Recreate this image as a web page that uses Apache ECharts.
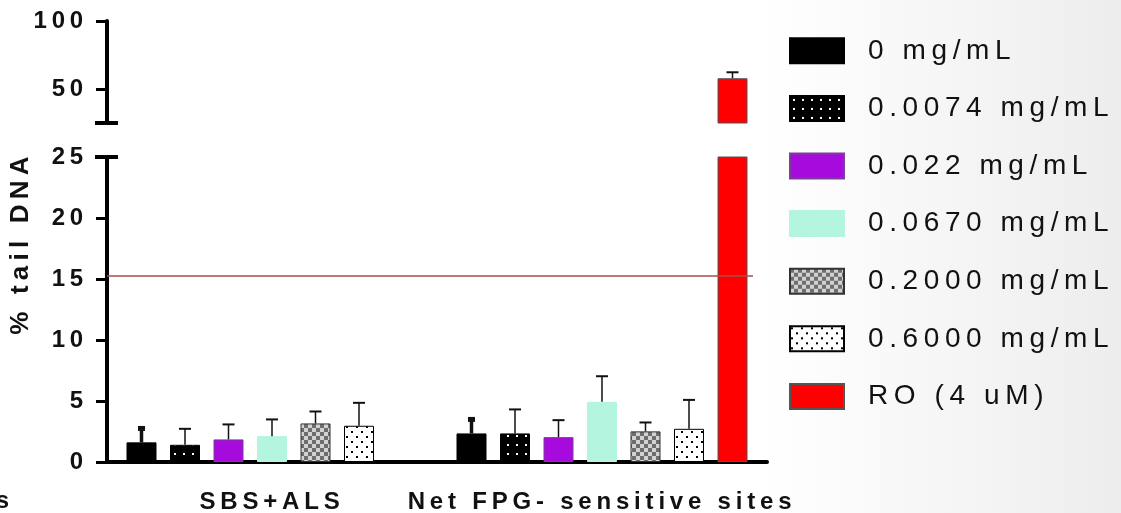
<!DOCTYPE html>
<html>
<head>
<meta charset="utf-8">
<script src="https://cdn.jsdelivr.net/npm/echarts@6/dist/echarts.min.js"></script>
<style>
html, body { margin: 0; padding: 0; background: #fff; }
#main { width: 1121px; height: 513px; }
</style>
</head>
<body>
<div id="main"></div>
<script>
// values (mean and top of the error bar, % tail DNA)
const categories = ['SBS+ALS', 'Net FPG- sensitive sites'];
const groups = ['0 mg/mL', '0.0074 mg/mL', '0.022 mg/mL', '0.0670 mg/mL', '0.2000 mg/mL', '0.6000 mg/mL', 'RO (4 uM)'];
const sbsMean = [1.61, 1.41, 1.85, 2.12, 3.16, 2.97, null];
const sbsTop = [2.75, 2.72, 3.08, 3.49, 4.14, 4.85, null];
const fpgMean = [2.34, 2.34, 2.04, 4.93, 2.51, 2.72, 57.9];
const fpgTop = [3.49, 4.31, 3.43, 7.03, 3.24, 5.09, 62.3];
const upperTicks = [50, 100];
const refLine = 15.3;

const FONT = 'Liberation Sans, Arial, sans-serif';
const BAR_W = 30;
const STEP = BAR_W * 1.45; // bar width + barGap 45%
const BREAK = 25;

// the figure's text is set with wide tracking; echarts has no option for it, canvas does
const ctxProto = CanvasRenderingContext2D.prototype;
const rawFill = ctxProto.fillText;
const rawMeasure = ctxProto.measureText;
function track(ctx) {
  const m = /([\d.]+)px/.exec(ctx.font);
  ctx.letterSpacing = m ? (parseFloat(m[1]) * 0.2).toFixed(1) + 'px' : '0px';
}
ctxProto.fillText = function () { track(this); return rawFill.apply(this, arguments); };
ctxProto.measureText = function () { track(this); return rawMeasure.apply(this, arguments); };

function tile(size, bg, draw) {
  const c = document.createElement('canvas');
  c.width = size;
  c.height = size;
  const g = c.getContext('2d');
  g.fillStyle = bg;
  g.fillRect(0, 0, size, size);
  draw(g);
  return { image: c, repeat: 'repeat' };
}
const blackDots = tile(9, '#000', g => { g.fillStyle = '#fff'; g.fillRect(3, 3, 2, 2); });
const checker = tile(8, '#d2d2d2', g => { g.fillStyle = '#6e6e6e'; g.fillRect(0, 0, 4, 4); g.fillRect(4, 4, 4, 4); });
const whiteDots = tile(10, '#fff', g => { g.fillStyle = '#000'; g.fillRect(1, 1, 2, 2); g.fillRect(6, 6, 2, 2); });

const fills = ['#000000', blackDots, '#a60adc', '#b3f5de', checker, whiteDots, '#ff0000'];
const borders = ['#000', '#000', '#7e3d9e', '#b3f5de', '#333', '#000', '#555'];

let myChart = echarts.init(document.getElementById('main'));

function barSeries(gi, gridIdx) {
  const vals = [sbsMean[gi], fpgMean[gi]].map(v => {
    if (v == null) return null;
    if (gridIdx === 1) return v > BREAK ? v : null;
    return v;
  });
  const s = {
    type: 'bar',
    name: groups[gi],
    xAxisIndex: gridIdx,
    yAxisIndex: gridIdx,
    data: vals,
    barWidth: BAR_W,
    barGap: '45%',
    clip: true,
    itemStyle: { color: fills[gi], borderColor: borders[gi], borderWidth: 1 }
  };
  if (gi === 6 && gridIdx === 0) {
    s.markLine = {
      silent: true,
      symbol: 'none',
      label: { show: false },
      lineStyle: { color: '#a84c4c', width: 1.5, type: 'solid' },
      data: [[{ coord: [0, refLine], x: 107 }, { coord: [1, refLine], x: 753 }]]
    };
  }
  return s;
}

function errorSeries(gi, gridIdx) {
  const data = [];
  [sbsMean, fpgMean].forEach((m, ci) => {
    if (m[gi] == null) return;
    const top = ci === 0 ? sbsTop[gi] : fpgTop[gi];
    if ((m[gi] > BREAK) !== (gridIdx === 1)) return;
    data.push([ci, m[gi], top]);
  });
  return {
    type: 'custom',
    name: 'err' + gi,
    xAxisIndex: gridIdx,
    yAxisIndex: gridIdx,
    silent: true,
    z: 3,
    data: data,
    renderItem: function (params, api) {
      const p0 = api.coord([api.value(0), api.value(1)]);
      const p1 = api.coord([api.value(0), api.value(2)]);
      const x = p0[0] + (gi - 3) * STEP;
      const thick = gi === 0;
      const half = thick ? 3.5 : 6;
      return {
        type: 'group',
        children: [
          { type: 'line', shape: { x1: x, y1: p0[1], x2: x, y2: p1[1] }, style: { stroke: '#111', lineWidth: thick ? 3.5 : 1.5 } },
          { type: 'line', shape: { x1: x - half, y1: p1[1], x2: x + half, y2: p1[1] }, style: { stroke: '#111', lineWidth: thick ? 5 : 2 } }
        ]
      };
    }
  };
}

let series = [];
for (let g = 0; g < 2; g++) {
  for (let i = 0; i < groups.length; i++) series.push(barSeries(i, g));
}
for (let g = 0; g < 2; g++) {
  for (let i = 0; i < groups.length; i++) series.push(errorSeries(i, g));
}

const axisBlack = { lineStyle: { color: '#000', width: 4 } };
const tickLabel = { color: '#111', fontSize: 24, fontWeight: 'bold', fontFamily: FONT };

let option = {
  animation: false,
  backgroundColor: new echarts.graphic.LinearGradient(0, 0, 1, 0, [
    { offset: 0, color: '#ffffff' },
    { offset: 0.68, color: '#ffffff' },
    { offset: 1, color: '#ededed' }
  ]),
  legend: {
    data: groups,
    orient: 'vertical',
    left: 784,
    top: 29,
    icon: 'rect',
    itemWidth: 54,
    itemHeight: 25,
    itemGap: 24,
    selectedMode: false,
    textStyle: { fontSize: 28, color: '#111', fontFamily: FONT, padding: [0, 0, 0, 19] }
  },
  grid: [
    { left: 107, width: 660, top: 157, height: 305, outerBoundsMode: 'none' },
    { left: 107, width: 660, top: 21, height: 102, outerBoundsMode: 'none' }
  ],
  xAxis: [
    {
      type: 'category',
      gridIndex: 0,
      data: categories,
      axisLine: axisBlack,
      axisTick: { alignWithLabel: true, length: 10, lineStyle: { color: '#000', width: 4 } },
      axisLabel: Object.assign({ margin: 26, interval: 0 }, tickLabel)
    },
    { type: 'category', gridIndex: 1, data: categories, show: false }
  ],
  yAxis: [
    {
      type: 'value',
      gridIndex: 0,
      min: 0,
      max: 25,
      interval: 5,
      axisLine: Object.assign({ show: true }, axisBlack),
      axisTick: { show: true, length: 11, lineStyle: { color: '#000', width: 3 } },
      axisLabel: Object.assign({ margin: 19 }, tickLabel),
      splitLine: { show: false }
    },
    {
      type: 'value',
      gridIndex: 1,
      min: BREAK,
      max: 100,
      axisLine: Object.assign({ show: true }, axisBlack),
      axisTick: { show: true, length: 11, customValues: upperTicks, lineStyle: { color: '#000', width: 3 } },
      axisLabel: Object.assign({ margin: 19, customValues: upperTicks }, tickLabel),
      splitLine: { show: false }
    }
  ],
  graphic: [
    {
      type: 'text', x: 21, y: 243, rotation: Math.PI / 2,
      style: { text: '% tail DNA', font: 'bold 26px ' + FONT, fill: '#111', align: 'center', verticalAlign: 'middle' }
    },
    {
      type: 'text', x: 14, y: 501,
      style: { text: 's', font: 'bold 24px ' + FONT, fill: '#111', align: 'right', verticalAlign: 'middle' }
    },
    // axis break caps
    { type: 'line', shape: { x1: 95, y1: 123, x2: 118, y2: 123 }, style: { stroke: '#000', lineWidth: 4 } },
    { type: 'line', shape: { x1: 95, y1: 157, x2: 118, y2: 157 }, style: { stroke: '#000', lineWidth: 4 } }
  ],
  series: series
};
option && myChart.setOption(option);
</script>
</body>
</html>
